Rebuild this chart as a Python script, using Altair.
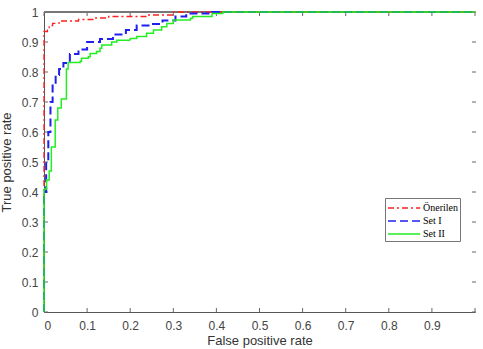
import altair as alt
import pandas as pd

series_names = ["Önerilen", "Set I", "Set II"]
series_colors = ["#ff1f1f", "#1f1fee", "#22ee22"]
series_dash = [[6, 3, 2, 3], [8, 4], [1, 0]]
series_width = [1.3, 2.0, 1.5]

oner_fpr = [0, 0, 0.008, 0.012, 0.02, 0.035, 0.08, 0.12, 0.15, 0.24, 0.30, 1.0]
oner_tpr = [0, 0.935, 0.945, 0.955, 0.962, 0.97, 0.975, 0.98, 0.985, 0.99, 1.0, 1.0]

set1_fpr = [0, 0, 0.005, 0.005, 0.01, 0.01, 0.015, 0.015, 0.02, 0.02, 0.027, 0.035,
            0.045, 0.06, 0.08, 0.1, 0.13, 0.16, 0.19, 0.215, 0.25, 0.275, 0.305,
            0.33, 0.39, 1.0]
set1_tpr = [0, 0.40, 0.42, 0.50, 0.52, 0.60, 0.62, 0.70, 0.72, 0.76, 0.79, 0.81,
            0.83, 0.86, 0.875, 0.90, 0.91, 0.925, 0.94, 0.955, 0.96, 0.972, 0.985,
            0.995, 1.0, 1.0]

set2_fpr = [0, 0, 0.006, 0.006, 0.012, 0.012, 0.017, 0.017, 0.026, 0.026, 0.032,
            0.032, 0.04, 0.04, 0.052, 0.052, 0.056, 0.056, 0.084, 0.087, 0.103,
            0.107, 0.122, 0.13, 0.134, 0.157, 0.169, 0.2, 0.215, 0.238, 0.254,
            0.273, 0.285, 0.3, 0.34, 0.345, 0.39, 0.415, 1.0]
set2_tpr = [0, 0.41, 0.42, 0.44, 0.45, 0.47, 0.48, 0.55, 0.56, 0.64, 0.65, 0.68,
            0.69, 0.71, 0.72, 0.81, 0.82, 0.832, 0.836, 0.846, 0.851, 0.862,
            0.868, 0.879, 0.89, 0.9, 0.906, 0.912, 0.918, 0.929, 0.94, 0.951,
            0.962, 0.973, 0.979, 0.985, 0.995, 1.0, 1.0]

tick_values = [round(i * 0.1, 1) for i in range(11)]

rows = []
for name, fx, fy in zip(series_names, [oner_fpr, set1_fpr, set2_fpr],
                        [oner_tpr, set1_tpr, set2_tpr]):
    for i, (a, b) in enumerate(zip(fx, fy)):
        rows.append({"series": name, "i": i, "fpr": a, "tpr": b})
df = pd.DataFrame(rows)
ticks_df = pd.DataFrame({"v": tick_values})

W, H = 431, 300
FONT = "Liberation Sans"

xscale = alt.Scale(domain=[0, 1], nice=False)
yscale = alt.Scale(domain=[0, 1], nice=False)

legend = alt.Legend(
    title=None, orient="none", legendX=341, legendY=186, direction="vertical",
    symbolType="M-1,0H3.6", symbolSize=196, symbolStrokeWidth=1.5,
    labelFont="Liberation Serif", labelFontSize=10, labelColor="black",
    strokeColor="#777777", fillColor="white", padding=2, rowPadding=0,
    labelOffset=20,
)

color = alt.Color("series:N", scale=alt.Scale(domain=series_names, range=series_colors),
                  legend=legend)
dash = alt.StrokeDash("series:N", scale=alt.Scale(domain=series_names, range=series_dash),
                      legend=legend)

x_axis = alt.Axis(
    values=tick_values, format=".1~f",
    labelExpr="datum.value == 1 ? '' : datum.label",
    ticks=False, grid=False, domainColor="#555555", domainWidth=1,
    labelColor="#444444", labelFont=FONT, labelFontSize=12, labelPadding=8,
    title="False positive rate", titleFont=FONT, titleFontSize=13,
    titleFontWeight="normal", titleColor="#333333", titlePadding=3)
y_axis = alt.Axis(
    values=tick_values, format=".1~f",
    ticks=False, grid=False, domainColor="#555555", domainWidth=1,
    labelColor="#444444", labelFont=FONT, labelFontSize=12, labelPadding=6,
    title="True positive rate", titleFont=FONT, titleFontSize=13,
    titleFontWeight="normal", titleColor="#333333", titlePadding=8)

lines = []
for name, w in zip(series_names, series_width):
    lines.append(
        alt.Chart(df).transform_filter(alt.datum.series == name)
        .mark_line(interpolate="step-after", strokeWidth=w)
        .encode(x=alt.X("fpr:Q", scale=xscale, axis=x_axis),
                y=alt.Y("tpr:Q", scale=yscale, axis=y_axis),
                color=color, strokeDash=dash, order="i:Q")
    )

tick_col = "#666666"
tb = alt.Chart(ticks_df).mark_rule(color=tick_col, strokeWidth=1).encode(
    x=alt.X("v:Q", scale=xscale, axis=x_axis), y=alt.value(H), y2=alt.value(H - 4))
tt = alt.Chart(ticks_df).mark_rule(color=tick_col, strokeWidth=1).encode(
    x=alt.X("v:Q", scale=xscale, axis=x_axis), y=alt.value(0), y2=alt.value(4))
tl = alt.Chart(ticks_df).mark_rule(color=tick_col, strokeWidth=1).encode(
    y=alt.Y("v:Q", scale=yscale, axis=y_axis), x=alt.value(0), x2=alt.value(4))
tr = alt.Chart(ticks_df).mark_rule(color=tick_col, strokeWidth=1).encode(
    y=alt.Y("v:Q", scale=yscale, axis=y_axis), x=alt.value(W - 3), x2=alt.value(W + 1))
top = alt.Chart(ticks_df).mark_rule(color="#777777", strokeWidth=1).encode(
    x=alt.value(0), x2=alt.value(W), y=alt.value(0))

chart = alt.layer(tb, tt, tl, tr, top, *lines).properties(
    width=W, height=H,
    padding={"left": 44, "top": 12, "right": 8, "bottom": 37},
    autosize="none",
).configure_view(stroke=None)

chart.save("out.html", embed_options={"renderer": "svg", "actions": False})
